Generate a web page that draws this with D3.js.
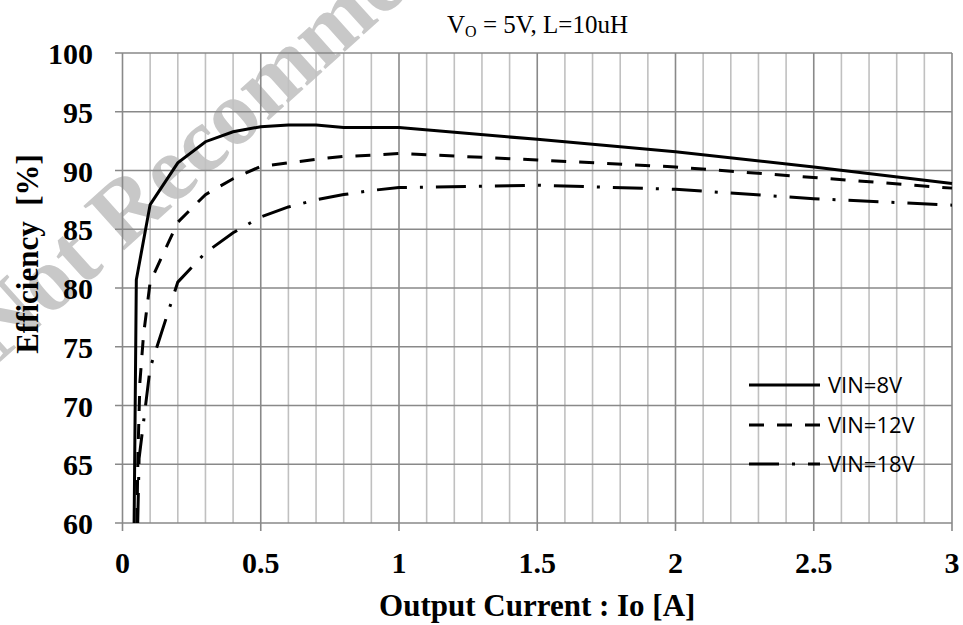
<!DOCTYPE html>
<html>
<head>
<meta charset="utf-8">
<script src="https://cdn.jsdelivr.net/npm/d3@7"></script>
<style>
    body { margin: 0; background: #fff; }
    svg { display: block; }
</style>
</head>
<body>
<div id="chart"></div>
<script>

// x values (Output Current, A) and efficiency (%) for each input voltage
const io8V = [0.042, 0.05, 0.1, 0.2, 0.3, 0.4, 0.5, 0.6, 0.7, 0.8, 0.9, 1.0, 1.5, 2.0, 2.5, 3.0];
const eff8V = [60, 80.7, 87.1, 90.65, 92.45, 93.3, 93.73, 93.87, 93.87, 93.65, 93.65, 93.65, 92.65, 91.6, 90.3, 88.9];

const io12V = [0.052, 0.056, 0.063, 0.076, 0.1, 0.2, 0.3, 0.4, 0.5, 0.6, 0.7, 0.8, 0.9, 1.0, 1.5, 2.0, 2.5, 3.0];
const eff12V = [60, 66, 72, 76, 80.5, 85.6, 87.95, 89.3, 90.35, 90.65, 90.95, 91.2, 91.3, 91.45, 90.9, 90.3, 89.4, 88.5];

const io18V = [0.055, 0.06, 0.1, 0.2, 0.3, 0.4, 0.5, 0.6, 0.7, 0.8, 0.9, 1.0, 1.5, 2.0, 2.5, 3.0];
const eff18V = [60, 65.5, 73.2, 80.5, 83, 84.7, 86.05, 86.9, 87.5, 87.95, 88.3, 88.55, 88.75, 88.4, 87.6, 87.05];

const seriesNames = ["VIN=8V", "VIN=12V", "VIN=18V"];
const xTicks = [0, 0.5, 1, 1.5, 2, 2.5, 3];
const xMinorTicks = d3.range(1, 30).map(d => d / 10);
const yTicks = [60, 65, 70, 75, 80, 85, 90, 95, 100];


class EfficiencyVis {

    constructor(parentElement){
        this.parentElement = parentElement;

        this.initVis()
    }

    initVis(){
        let vis = this;

        vis.width = 963;
        vis.height = 625;

        vis.svg = d3.select("#" + vis.parentElement).append("svg")
            .attr("width", vis.width)
            .attr("height", vis.height);

        // plot area
        vis.x = d3.scaleLinear().domain([0, 3]).range([122.5, 952]);
        vis.y = d3.scaleLinear().domain([60, 100]).range([523, 53]);

        // watermark, sits under everything
        vis.svg.append("text")
            .attr("transform", "translate(-1,363) rotate(-42)")
            .attr("font-family", "'Liberation Serif', 'Times New Roman', serif")
            .attr("font-weight", "bold")
            .attr("font-size", 92)
            .attr("fill", "#c8c8c8")
            .text("Not Recommended");

        vis.grid = vis.svg.append("g").attr("class", "grid");
        vis.lines = vis.svg.append("g").attr("class", "lines");
        vis.axes = vis.svg.append("g").attr("class", "axes");
        vis.legend = vis.svg.append("g").attr("class", "legend");

        vis.styles = {
            "VIN=8V": "none",
            "VIN=12V": "15,13",
            "VIN=18V": "30,13,3,13"
        };

        vis.wrangleData();
    }

    wrangleData(){
        let vis = this

        // zip up each series
        vis.displayData = [
            {name: seriesNames[0], values: io8V.map((d, i) => ({io: d, eff: eff8V[i]}))},
            {name: seriesNames[1], values: io12V.map((d, i) => ({io: d, eff: eff12V[i]}))},
            {name: seriesNames[2], values: io18V.map((d, i) => ({io: d, eff: eff18V[i]}))}
        ];

        vis.updateVis()
    }

    updateVis(){
        let vis = this;

        let x0 = vis.x.range()[0], x1 = vis.x.range()[1];
        let y0 = vis.y.range()[0], y1 = vis.y.range()[1];

        // minor vertical grid
        vis.grid.selectAll(".minor")
            .data(xMinorTicks.filter(d => Math.round(d * 10) % 5 !== 0))
            .join("line")
            .attr("class", "minor")
            .attr("x1", d => vis.x(d)).attr("x2", d => vis.x(d))
            .attr("y1", y0).attr("y2", y1)
            .attr("stroke", "#c0c0c0")
            .attr("stroke-width", 1.6);

        // horizontal grid, sticks out left as tick marks
        vis.grid.selectAll(".hgrid")
            .data(yTicks)
            .join("line")
            .attr("class", "hgrid")
            .attr("x1", x0 - 7.5).attr("x2", x1)
            .attr("y1", d => vis.y(d)).attr("y2", d => vis.y(d))
            .attr("stroke", "#898989")
            .attr("stroke-width", 1.6);

        // major vertical grid, sticks out below as tick marks
        vis.grid.selectAll(".vgrid")
            .data(xTicks)
            .join("line")
            .attr("class", "vgrid")
            .attr("x1", d => vis.x(d)).attr("x2", d => vis.x(d))
            .attr("y1", y0 + 8).attr("y2", y1)
            .attr("stroke", "#898989")
            .attr("stroke-width", 1.6);

        let line = d3.line()
            .x(d => vis.x(d.io))
            .y(d => vis.y(d.eff));

        vis.lines.selectAll("path")
            .data(vis.displayData)
            .join("path")
            .attr("d", d => line(d.values))
            .attr("fill", "none")
            .attr("stroke", "#000")
            .attr("stroke-width", 3)
            .attr("stroke-dasharray", d => vis.styles[d.name]);

        // tick labels
        vis.axes.selectAll(".ylab")
            .data(yTicks)
            .join("text")
            .attr("class", "ylab")
            .attr("x", 93)
            .attr("y", d => vis.y(d) + 11)
            .attr("text-anchor", "end")
            .attr("font-family", "'Liberation Serif', 'Times New Roman', serif")
            .attr("font-weight", "bold")
            .attr("font-size", 30)
            .text(d => d);

        vis.axes.selectAll(".xlab")
            .data(xTicks)
            .join("text")
            .attr("class", "xlab")
            .attr("x", d => vis.x(d))
            .attr("y", 573)
            .attr("text-anchor", "middle")
            .attr("font-family", "'Liberation Serif', 'Times New Roman', serif")
            .attr("font-weight", "bold")
            .attr("font-size", 30)
            .text(d => d);

        // axis titles
        vis.axes.append("text")
            .attr("x", (x0 + x1) / 2)
            .attr("y", 616)
            .attr("text-anchor", "middle")
            .attr("font-family", "'Liberation Serif', 'Times New Roman', serif")
            .attr("font-weight", "bold")
            .attr("font-size", 31)
            .text("Output Current : Io [A]");

        vis.axes.append("text")
            .attr("transform", "translate(38,254) rotate(-90)")
            .attr("text-anchor", "middle")
            .attr("font-family", "'Liberation Serif', 'Times New Roman', serif")
            .attr("font-weight", "bold")
            .attr("font-size", 31)
            .style("white-space", "pre")
            .text("Efficiency  [%]");

        // chart title with subscript
        let title = vis.axes.append("text")
            .attr("x", 447)
            .attr("y", 33)
            .attr("font-family", "'Liberation Serif', 'Times New Roman', serif")
            .attr("font-size", 25);
        title.append("tspan").text("V");
        title.append("tspan").attr("font-size", 16).attr("dy", 4).text("O");
        title.append("tspan").attr("dy", -4).style("white-space", "pre").text(" = 5V, L=10uH");

        // legend
        let rows = vis.legend.selectAll("g")
            .data(vis.displayData)
            .join("g")
            .attr("transform", (d, i) => "translate(749," + [385, 425, 464][i] + ")");

        rows.append("line")
            .attr("x1", 0).attr("x2", 71)
            .attr("y1", 0).attr("y2", 0)
            .attr("stroke", "#000")
            .attr("stroke-width", 3.2)
            .attr("stroke-dasharray", d => vis.styles[d.name]);

        rows.append("text")
            .attr("x", 79)
            .attr("y", 8)
            .attr("font-family", "'Open Sans', sans-serif")
            .attr("font-size", 22)
            .attr("fill", "#000")
            .text(d => d.name);
    }
}

let efficiencyVis = new EfficiencyVis("chart");

</script>
</body>
</html>
